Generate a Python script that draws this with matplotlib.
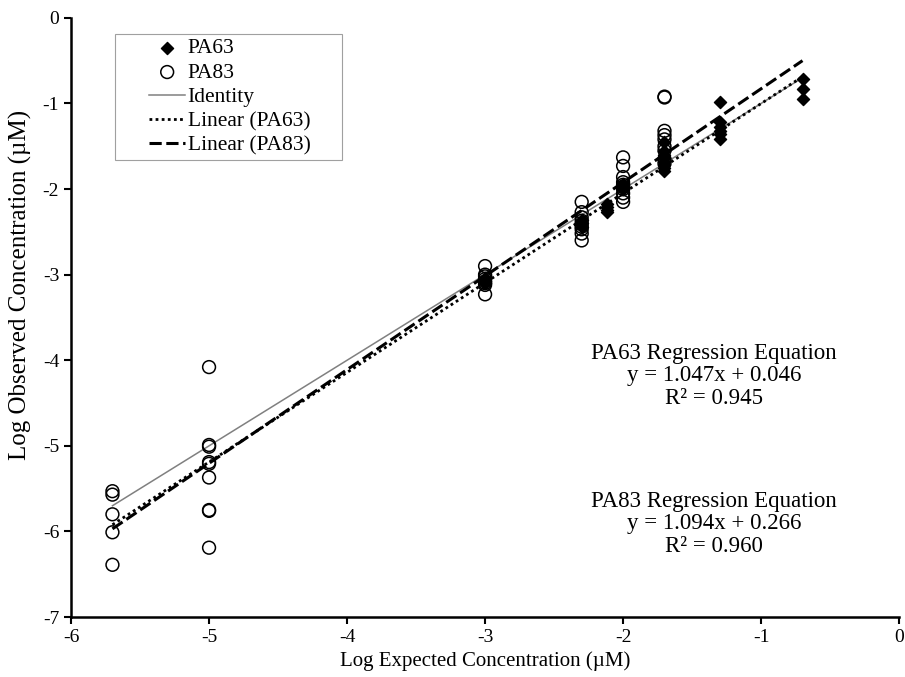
import matplotlib
matplotlib.use('Agg')
import matplotlib.pyplot as plt
from matplotlib.patches import Rectangle
import numpy as np

plt.rcParams.update({
    'font.family': ['Liberation Serif', 'DejaVu Serif'],
    'font.size': 13,
    'axes.unicode_minus': False,
})

# PA63 (filled diamonds)
pa63_x = [-3.0, -3.0, -3.0, -2.3, -2.3, -2.3, -2.12, -2.12, -2.12, -2.12,
          -2.0, -2.0, -2.0,
          -1.7, -1.7, -1.7, -1.7, -1.7, -1.7, -1.7, -1.7,
          -1.3, -1.3, -1.3, -1.3, -1.3, -1.3,
          -0.7, -0.7, -0.7]
pa63_y = [-3.04, -3.07, -3.10, -2.36, -2.40, -2.44, -2.18, -2.21, -2.24, -2.27,
          -1.94, -1.97, -2.00,
          -1.45, -1.55, -1.60, -1.64, -1.68, -1.72, -1.75, -1.79,
          -0.98, -1.22, -1.27, -1.32, -1.36, -1.42,
          -0.71, -0.83, -0.95]

# PA83 (open circles)
pa83_x = [-5.7] * 5 + [-5.0] * 9 + [-3.0] * 8 + [-2.3] * 9 + [-2.0] * 10 + [-1.7] * 9
pa83_y = [-5.53, -5.57, -5.80, -6.01, -6.39,
          -4.08, -4.99, -5.01, -5.19, -5.21, -5.37, -5.75, -5.76, -6.19,
          -2.90, -3.00, -3.02, -3.05, -3.08, -3.10, -3.12, -3.23,
          -2.15, -2.27, -2.33, -2.37, -2.41, -2.44, -2.47, -2.52, -2.60,
          -1.63, -1.73, -1.86, -1.92, -1.95, -1.97, -2.00, -2.05, -2.10, -2.15,
          -0.92, -0.93, -1.32, -1.37, -1.42, -1.50, -1.55, -1.65, -1.70]

# trend lines (slope, intercept) and line range
fit_x = np.array([-5.7, -0.7])
pa63_fit = (1.047, 0.046)
pa83_fit = (1.094, 0.266)
pa63_r2 = 0.945
pa83_r2 = 0.960

fig = plt.figure(figsize=(9.05, 6.77), dpi=100)
ax = fig.add_axes([0.0785, 0.0886, 0.915, 0.885])

ax.scatter(pa63_x, pa63_y, marker='D', s=38, color='black', zorder=3, label='PA63')
ax.scatter(pa83_x, pa83_y, marker='o', s=85, facecolors='none', edgecolors='black',
           linewidths=1.1, zorder=4, label='PA83')
ax.plot(fit_x, fit_x, color='#808080', lw=1.1, label='Identity', zorder=2)
ax.plot(fit_x, pa63_fit[0] * fit_x + pa63_fit[1], color='black', lw=2.0,
        ls=(0, (1, 1.2)), label='Linear (PA63)', zorder=2)
ax.plot(fit_x, pa83_fit[0] * fit_x + pa83_fit[1], color='black', lw=2.2,
        ls=(0, (4, 1.5)), label='Linear (PA83)', zorder=2)

ax.set_xlim(-6, 0)
ax.set_ylim(-7, 0)
ax.set_xticks(range(-6, 1))
ax.set_yticks(range(-7, 1))
for s in ['top', 'right']:
    ax.spines[s].set_visible(False)
for s in ['left', 'bottom']:
    ax.spines[s].set_linewidth(1.8)
ax.tick_params(direction='out', length=5, width=1.5, labelsize=14)
ax.set_xlabel('Log Expected Concentration (µM)', fontsize=15, labelpad=4)
ax.set_ylabel('Log Observed Concentration (µM)', fontsize=18)
ax.yaxis.set_label_coords(-0.047, 0.554)

# legend: frame drawn separately so the handles sit inset like the original
ax.add_patch(Rectangle((0.053, 0.763), 0.274, 0.21, transform=ax.transAxes,
                       facecolor='white', edgecolor='#A0A0A0', lw=0.8, zorder=5))
leg = ax.legend(loc='upper left', bbox_to_anchor=(0.094, 0.966), fontsize=15.5,
                frameon=False, handlelength=1.7, handletextpad=0.1,
                borderpad=0, borderaxespad=0, labelspacing=0.2)
leg.set_zorder(6)

ax.text(-1.34, -4.18,
        'PA63 Regression Equation\n'
        f'y = {pa63_fit[0]:.3f}x + {pa63_fit[1]:.3f}\n'
        f'R² = {pa63_r2:.3f}',
        ha='center', va='center', fontsize=16.5, linespacing=1.1)
ax.text(-1.34, -5.91,
        'PA83 Regression Equation\n'
        f'y = {pa83_fit[0]:.3f}x + {pa83_fit[1]:.3f}\n'
        f'R² = {pa83_r2:.3f}',
        ha='center', va='center', fontsize=16.5, linespacing=1.1)

fig.savefig('out.png', dpi=100)
